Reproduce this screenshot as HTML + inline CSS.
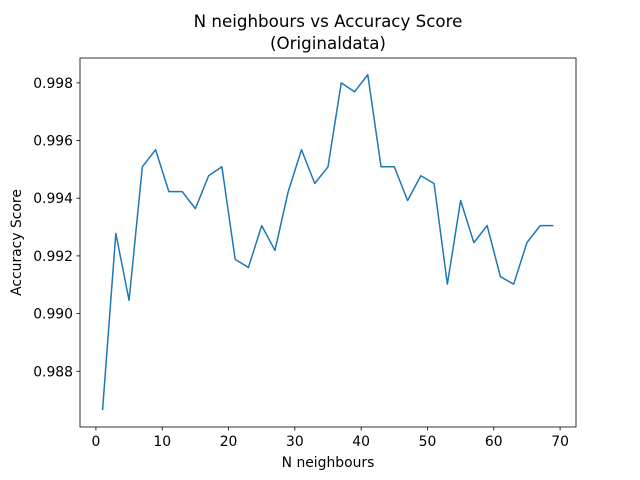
<!DOCTYPE html>
<html><head><meta charset="utf-8"><style>
body{margin:0;background:#fff;}
svg{display:block;font-family:"DejaVu Sans","Liberation Sans",sans-serif;}
</style></head><body>
<svg id="chart" width="640" height="480" viewBox="0 0 640 480">
<rect width="640" height="480" fill="#fff"/>
<text x="328" y="27" font-size="16.7" text-anchor="middle">N neighbours vs Accuracy Score</text>
<text x="328" y="49" font-size="16.7" text-anchor="middle">(Originaldata)</text>
<g id="ticks"></g>
<path id="line" fill="none" stroke="#1f77b4" stroke-width="1.5" stroke-linejoin="round"/>
<rect x="80" y="58" width="496" height="369" fill="none" stroke="#000" stroke-width="0.8"/>
<text x="328" y="467" font-size="13.9" text-anchor="middle">N neighbours</text>
<text transform="translate(21,242.5) rotate(-90)" font-size="13.9" text-anchor="middle">Accuracy Score</text>
</svg>
<script>
const neighbours=[1,3,5,7,9,11,13,15,17,19,21,23,25,27,29,31,33,35,37,39,41,43,45,47,49,51,53,55,57,59,61,63,65,67,69];
const scores=[0.98665,0.99278,0.99046,0.99509,0.99568,0.99423,0.99423,0.99364,0.99478,0.99509,0.99188,0.99160,0.99305,0.99219,0.99423,0.99568,0.99451,0.99509,0.99800,0.99769,0.99828,0.99509,0.99509,0.99392,0.99478,0.99451,0.99102,0.99392,0.99246,0.99305,0.99128,0.99102,0.99246,0.99305,0.99305];
const xTicks=[0,10,20,30,40,50,60,70];
const yTicks=[0.988,0.990,0.992,0.994,0.996,0.998];
const L=80,R=576,T=58,B=427;
const xmin=Math.min(...neighbours),xmax=Math.max(...neighbours),xm=(xmax-xmin)*0.05;
const ymin=Math.min(...scores),ymax=Math.max(...scores),ym=(ymax-ymin)*0.05;
const xs=v=>L+(v-(xmin-xm))/((xmax+xm)-(xmin-xm))*(R-L);
const ys=v=>B-(v-(ymin-ym))/((ymax+ym)-(ymin-ym))*(B-T);
const ns="http://www.w3.org/2000/svg";
const g=document.getElementById('ticks');
xTicks.forEach(t=>{
  const x=xs(t);
  const l=document.createElementNS(ns,'line');
  l.setAttribute('x1',x);l.setAttribute('x2',x);l.setAttribute('y1',B);l.setAttribute('y2',B+3.5);
  l.setAttribute('stroke','#000');l.setAttribute('stroke-width','0.8');
  
  
  g.appendChild(l);
  const tx=document.createElementNS(ns,'text');
  tx.setAttribute('x',x);tx.setAttribute('y',B+19);tx.setAttribute('font-size','13.9');tx.setAttribute('text-anchor','middle');
  tx.textContent=t;
  
  
  g.appendChild(tx);
});
yTicks.forEach(t=>{
  const y=ys(t);
  const l=document.createElementNS(ns,'line');
  l.setAttribute('x1',L-3.5);l.setAttribute('x2',L);l.setAttribute('y1',y);l.setAttribute('y2',y);
  l.setAttribute('stroke','#000');l.setAttribute('stroke-width','0.8');
  
  
  g.appendChild(l);
  const tx=document.createElementNS(ns,'text');
  tx.setAttribute('x',L-7);tx.setAttribute('y',y+5);tx.setAttribute('font-size','13.9');tx.setAttribute('text-anchor','end');
  tx.textContent=t.toFixed(3);
  
  
  g.appendChild(tx);
});
document.getElementById('line').setAttribute('d',neighbours.map((n,i)=>(i?'L':'M')+xs(n).toFixed(2)+','+ys(scores[i]).toFixed(2)).join(' '));
</script>
</body></html>
